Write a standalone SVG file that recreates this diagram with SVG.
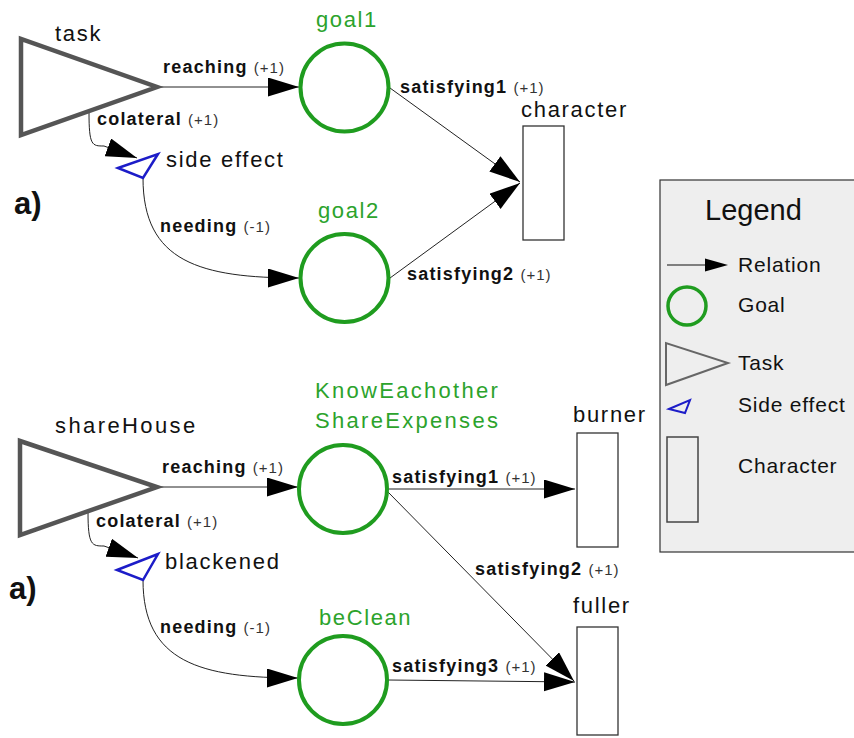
<svg xmlns="http://www.w3.org/2000/svg" width="854" height="738" viewBox="0 0 854 738">
<style>
text{font-family:"Liberation Sans",Arial,sans-serif;fill:#111}
.lbl{font-size:22px;letter-spacing:1.7px}
.glbl{font-size:22px;letter-spacing:1.6px;fill:#2ca32c}
.rel{font-size:18px;font-weight:bold;letter-spacing:1.2px}
.val{font-size:15px;font-weight:normal;letter-spacing:1px;fill:#333}
.big{font-size:31px;font-weight:bold}
.leg{font-size:21px;letter-spacing:0.8px}
.task{fill:none;stroke:#555;stroke-width:4.5;stroke-linejoin:miter}
.goal{fill:none;stroke:#1f9c1f;stroke-width:4}
.side{fill:none;stroke:#1c1cc8;stroke-width:2.5;stroke-linejoin:miter}
.char{fill:#fff;stroke:#333;stroke-width:1.3}
.edge{fill:none;stroke:#222;stroke-width:1;marker-end:url(#ah)}
</style>
<defs>
<marker id="ah" markerUnits="userSpaceOnUse" markerWidth="32" markerHeight="20" refX="31" refY="9.5" orient="auto">
<path d="M0,0 L31,9.5 L0,19 z" fill="#000"/>
</marker>
</defs>

<g id="connectors">
<path class="edge" d="M157,87 L299,87"/>
<path class="edge" d="M89,112 C89,146 92,146 104,146 L137,158"/>
<path class="edge" d="M143,178 C143,262 200,278 299,278"/>
<path class="edge" d="M390,88 L520,182"/>
<path class="edge" d="M390,278 L520,183"/>
<path class="edge" d="M157,487 L298,487"/>
<path class="edge" d="M88,512 C88,546 92,546 104,546 L138,558"/>
<path class="edge" d="M143,580 C143,662 200,678 298,678"/>
<path class="edge" d="M388,489 L575,489"/>
<path class="edge" d="M388,492 L574,681"/>
<path class="edge" d="M388,680 L575,682"/>
</g>

<g id="edge-labels">
<text x="163" y="73" class="rel">reaching <tspan class="val">(+1)</tspan></text>
<text x="97" y="125" class="rel">colateral <tspan class="val">(+1)</tspan></text>
<text x="160" y="232" class="rel">needing <tspan class="val">(-1)</tspan></text>
<text x="400" y="93" class="rel">satisfying1 <tspan class="val">(+1)</tspan></text>
<text x="407" y="280" class="rel">satisfying2 <tspan class="val">(+1)</tspan></text>
<text x="162" y="473" class="rel">reaching <tspan class="val">(+1)</tspan></text>
<text x="96" y="527" class="rel">colateral <tspan class="val">(+1)</tspan></text>
<text x="160" y="633" class="rel">needing <tspan class="val">(-1)</tspan></text>
<text x="392" y="483" class="rel">satisfying1 <tspan class="val">(+1)</tspan></text>
<text x="475" y="575" class="rel">satisfying2 <tspan class="val">(+1)</tspan></text>
<text x="392" y="672" class="rel">satisfying3 <tspan class="val">(+1)</tspan></text>
</g>

<g id="label-a-top"><text x="14" y="214" class="big">a)</text></g>
<g id="label-a-bottom"><text x="9" y="599" class="big">a)</text></g>

<g id="task">
<polygon class="task" points="21,39 21,135 157,87"/>
<text x="55" y="41" class="lbl">task</text>
</g>
<g id="side-effect">
<polygon class="side" points="118,168 158,154 143,178"/>
<text x="166" y="167" class="lbl">side effect</text>
</g>
<g id="goal1">
<circle class="goal" cx="344.5" cy="87.5" r="44"/>
<text x="316" y="27" class="glbl">goal1</text>
</g>
<g id="goal2">
<circle class="goal" cx="344.5" cy="278" r="44"/>
<text x="318" y="218" class="glbl">goal2</text>
</g>
<g id="character">
<rect class="char" x="523" y="126" width="41" height="114"/>
<text x="521" y="117" class="lbl">character</text>
</g>

<g id="shareHouse">
<polygon class="task" points="20,441 20,535 157,487"/>
<text x="55" y="433" class="lbl" style="letter-spacing:2.4px">shareHouse</text>
</g>
<g id="blackened">
<polygon class="side" points="117,570 158,554 143,580"/>
<text x="165" y="569" class="lbl">blackened</text>
</g>
<g id="knowEachother">
<circle class="goal" cx="343" cy="489" r="44"/>
<text x="315" y="398" class="glbl" style="letter-spacing:2.3px">KnowEachother</text>
<text x="315" y="428" class="glbl" style="letter-spacing:2.3px">ShareExpenses</text>
</g>
<g id="beClean">
<circle class="goal" cx="343" cy="680" r="44"/>
<text x="319" y="625" class="glbl">beClean</text>
</g>
<g id="burner">
<rect class="char" x="577" y="433" width="41" height="114"/>
<text x="573" y="422" class="lbl">burner</text>
</g>
<g id="fuller">
<rect class="char" x="577" y="627" width="41" height="108"/>
<text x="573" y="613" class="lbl">fuller</text>
</g>

<g id="legend">
<rect x="660" y="180" width="200" height="372" fill="#eeeeee" stroke="#333" stroke-width="1.2"/>
<text x="705" y="220" style="font-size:29px">Legend</text>
<line x1="667" y1="265" x2="708" y2="265" stroke="#111" stroke-width="1.2"/>
<polygon points="705,258.5 728,265 705,271.5" fill="#000"/>
<text x="738" y="272" class="leg">Relation</text>
<circle cx="687" cy="306" r="19" fill="none" stroke="#1f9c1f" stroke-width="3.5"/>
<text x="738" y="312" class="leg">Goal</text>
<polygon points="666,343 666,385 728,363" fill="none" stroke="#666" stroke-width="2"/>
<text x="738" y="370" class="leg">Task</text>
<polygon points="669,409 690,400 685,413" fill="none" stroke="#1c1cc8" stroke-width="2"/>
<text x="738" y="412" class="leg">Side effect</text>
<rect x="667" y="437" width="31" height="85" fill="none" stroke="#444" stroke-width="1.5"/>
<text x="738" y="473" class="leg">Character</text>
</g>
</svg>
